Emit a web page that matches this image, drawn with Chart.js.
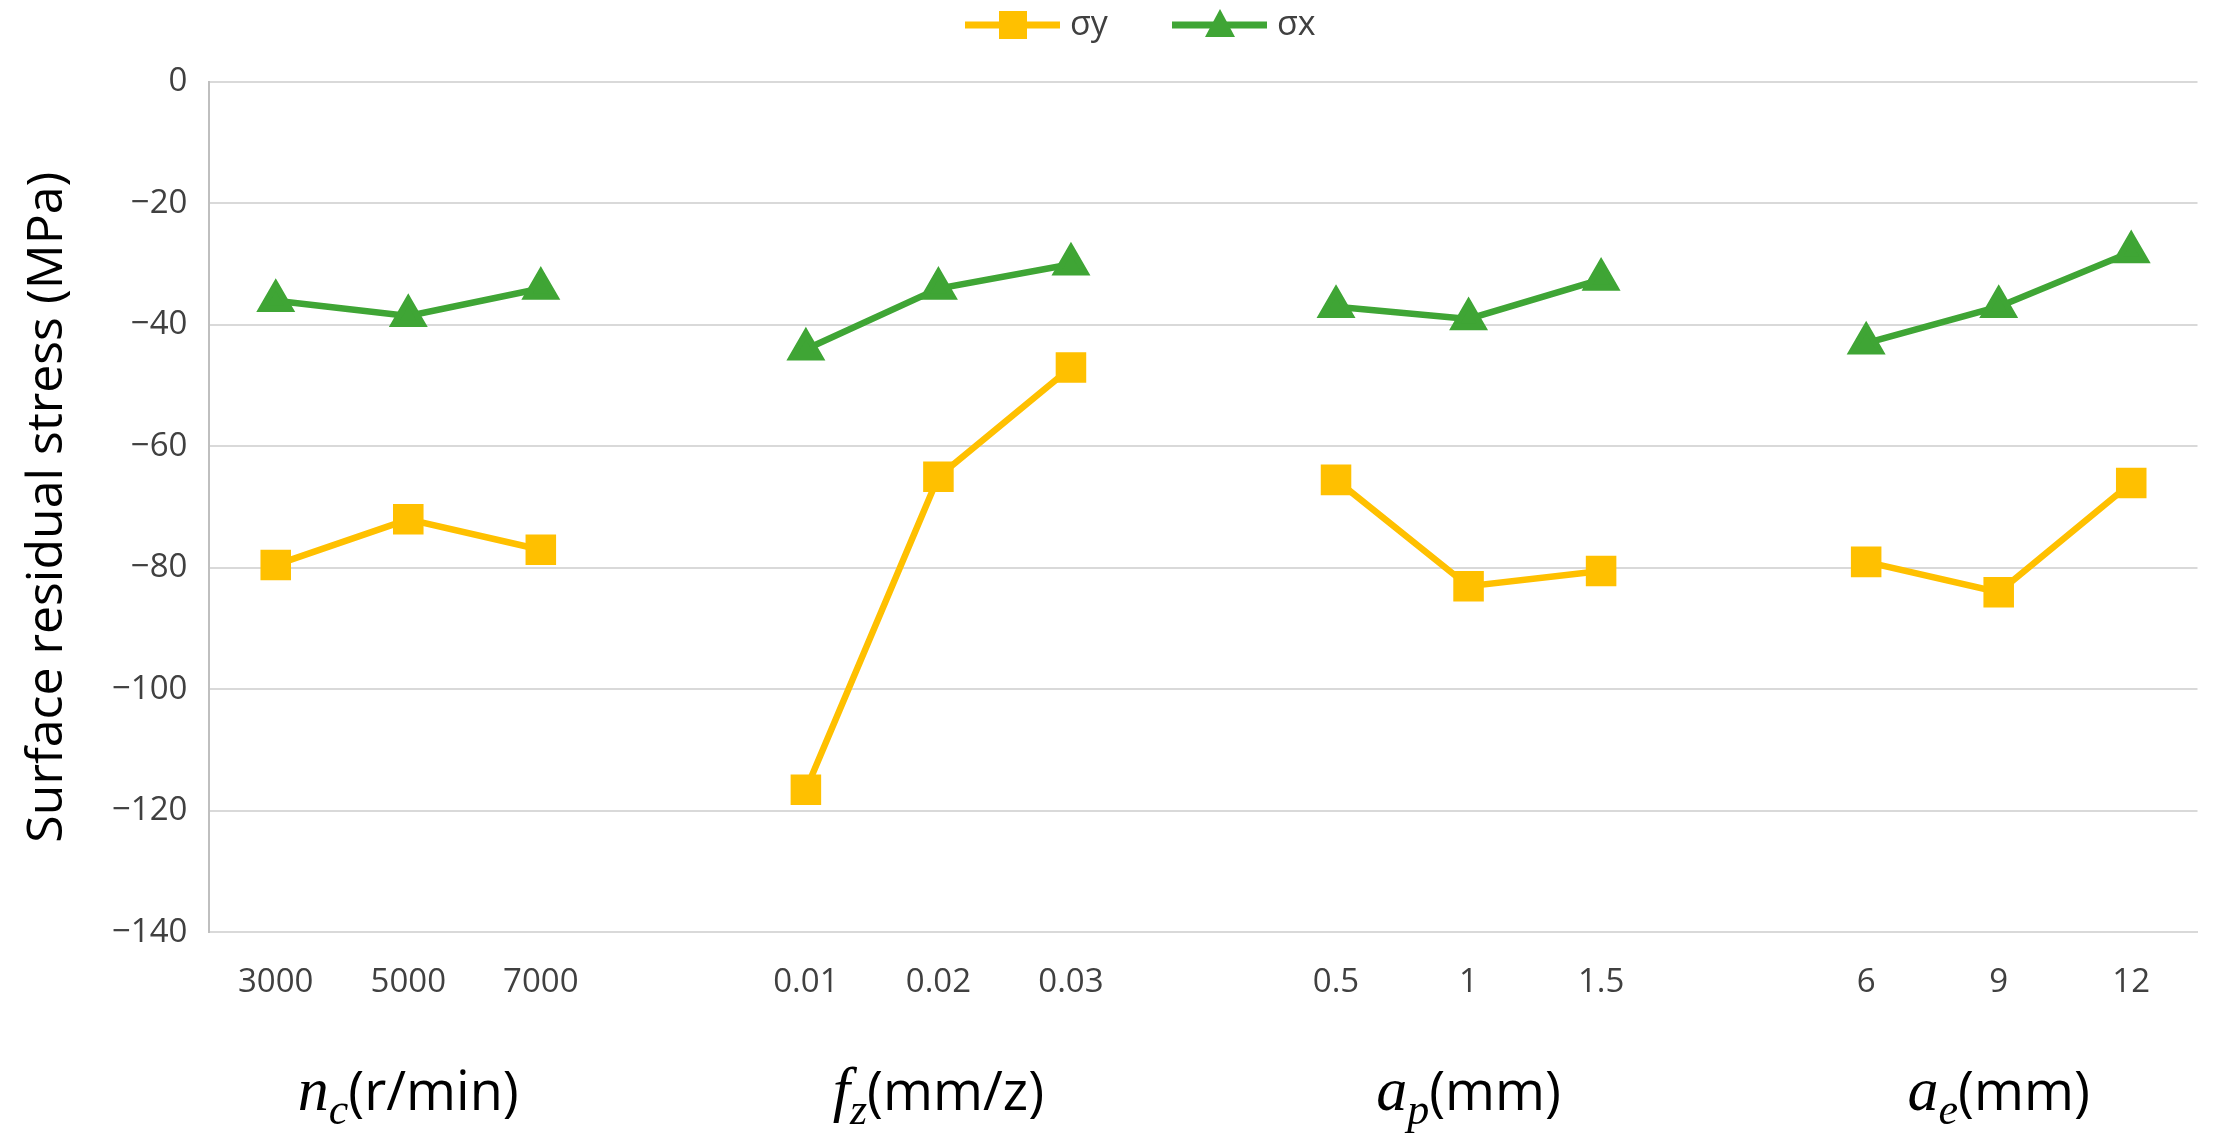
<!DOCTYPE html>
<html>
<head>
<meta charset="utf-8">
<script src="https://cdn.jsdelivr.net/npm/chart.js@4"></script>
<style>
  html, body { margin: 0; padding: 0; background: #fff; }
  #wrap { width: 2221px; height: 1142px; }
</style>
</head>
<body>
<div id="wrap"><canvas id="chart"></canvas></div>
<script>
'use strict';

// --- DATA ---
const tickLabels = ['3000', '5000', '7000', '', '0.01', '0.02', '0.03', '', '0.5', '1', '1.5', '', '6', '9', '12'];
const sigmaY = [-79.5, -72, -77, null, -116.5, -65, -47, null, -65.5, -83, -80.5, null, -79, -84, -66];
const sigmaX = [-36, -38.5, -34, null, -44, -34, -30, null, -37, -39, -32.5, null, -43, -37, -28];
const groupNames = [['n', 'c', '(r/min)'], ['f', 'z', '(mm/z)'], ['a', 'p', '(mm)'], ['a', 'e', '(mm)']];
const groupCenters = [1, 5, 9, 13];

// factor names under the tick labels
const groupLabels = {
    id: 'groupLabels',
    afterDraw(chart) {
        const ctx = chart.ctx;
        const x = chart.scales.x;
        const y = 1110;
        ctx.save();
        ctx.fillStyle = '#000';
        groupNames.forEach((g, i) => {
            const main = 'italic 62px "Liberation Serif"';
            const sub = 'italic 44px "Liberation Serif"';
            const rest = '54px "Open Sans"';
            ctx.font = main; const w1 = ctx.measureText(g[0]).width;
            ctx.font = sub; const w2 = ctx.measureText(g[1]).width;
            ctx.font = rest; const w3 = ctx.measureText(g[2]).width;
            let cx = x.getPixelForValue(groupCenters[i]) - (w1 + w2 + w3) / 2;
            ctx.font = main; ctx.fillText(g[0], cx, y); cx += w1;
            ctx.font = sub; ctx.fillText(g[1], cx, y + 14); cx += w2;
            ctx.font = rest; ctx.fillText(g[2], cx, y);
        });
        ctx.restore();
    }
};

// legend with line + marker, like the spreadsheet original
const lineLegend = {
    id: 'lineLegend',
    afterDraw(chart) {
        const ctx = chart.ctx;
        const y = 25;
        const items = [[0, 965], [1, 1172]];
        ctx.save();
        items.forEach(([i, x0]) => {
            const d = chart.data.datasets[i];
            ctx.strokeStyle = d.borderColor;
            ctx.fillStyle = d.backgroundColor;
            ctx.lineWidth = 7;
            ctx.beginPath(); ctx.moveTo(x0, y); ctx.lineTo(x0 + 95, y); ctx.stroke();
            const cx = x0 + 48;
            ctx.beginPath();
            if (d.pointStyle === 'rect') {
                ctx.rect(cx - 14, y - 14, 28, 28);
            } else {
                ctx.moveTo(cx, y - 16); ctx.lineTo(cx + 15, y + 12); ctx.lineTo(cx - 15, y + 12); ctx.closePath();
            }
            ctx.fill();
            ctx.fillStyle = '#404040';
            ctx.font = '34px "Open Sans"';
            ctx.textBaseline = 'middle';
            ctx.fillText(d.label, x0 + 105, y);
        });
        ctx.restore();
    }
};

new Chart(document.getElementById('chart'), {
    type: 'line',
    data: {
        labels: tickLabels,
        datasets: [
            {
                label: 'σy', data: sigmaY, borderColor: '#ffc000', backgroundColor: '#ffc000',
                borderWidth: 6.5, pointStyle: 'rect', pointRadius: 17, pointHoverRadius: 17, spanGaps: false
            },
            {
                label: 'σx', data: sigmaX, borderColor: '#3fa535', backgroundColor: '#3fa535',
                borderWidth: 6.5, pointStyle: 'triangle', pointRadius: 16, pointHoverRadius: 16, spanGaps: false
            }
        ]
    },
    options: {
        responsive: true,
        maintainAspectRatio: false,
        animation: false,
        layout: { padding: { top: 82, right: 0, bottom: 118, left: 14 } },
        plugins: {
            legend: { display: false },
            tooltip: { enabled: false }
        },
        scales: {
            x: {
                offset: true,
                grid: { display: false },
                border: { color: '#d9d9d9', width: 2 },
                ticks: { color: '#404040', font: { family: 'Open Sans', size: 33 }, padding: 22, maxRotation: 0, autoSkip: false }
            },
            y: {
                min: -140, max: 0,
                ticks: { stepSize: 20, color: '#404040', font: { family: 'Open Sans', size: 33 }, padding: 22,
                    callback: v => v < 0 ? '\u2212' + Math.abs(v) : v },
                grid: { color: '#d9d9d9', lineWidth: 2, drawTicks: false },
                border: { color: '#bfbfbf', width: 2 },
                title: { display: true, text: 'Surface residual stress (MPa)', color: '#000',
                    font: { family: 'Open Sans', size: 50 }, padding: { bottom: 12 } }
            }
        }
    },
    plugins: [groupLabels, lineLegend]
});
</script>
</body>
</html>
